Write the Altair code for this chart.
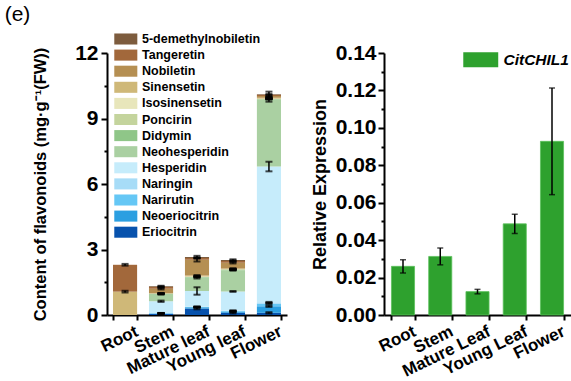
import altair as alt
import pandas as pd

FONT = "Liberation Sans"

# ---------------- data: flavonoid content (mg/g FW) ----------------
tissues = ["Root", "Stem", "Mature leaf", "Young leaf", "Flower"]
# legend order (top of stack first)
compounds = ["5-demethylnobiletin", "Tangeretin", "Nobiletin", "Sinensetin",
             "Isosinensetin", "Poncirin", "Didymin", "Neohesperidin",
             "Hesperidin", "Naringin", "Narirutin", "Neoeriocitrin", "Eriocitrin"]
colors = ["#7d5c3e", "#a2683b", "#b58f52", "#cfb878", "#e8e6bb", "#c4d49d",
          "#8fc688", "#aad0a2", "#c6ecfb", "#a7dcf7", "#65c7f5", "#2b9fe1", "#0752ad"]

eriocitrin = [0.00, 0.05, 0.30, 0.10, 0.10]
neoeriocitrin = [0.00, 0.02, 0.05, 0.05, 0.30]
narirutin = [0.00, 0.01, 0.02, 0.03, 0.12]
naringin = [0.00, 0.01, 0.01, 0.02, 0.06]
hesperidin = [0.00, 0.54, 0.72, 0.88, 6.22]
neohesperidin = [0.00, 0.33, 0.62, 0.97, 3.05]
didymin = [0.00, 0.01, 0.02, 0.02, 0.03]
poncirin = [0.00, 0.01, 0.00, 0.02, 0.02]
isosinensetin = [0.00, 0.00, 0.02, 0.01, 0.01]
sinensetin = [1.07, 0.02, 0.05, 0.03, 0.04]
nobiletin = [0.00, 0.20, 0.72, 0.26, 0.08]
tangeretin = [1.23, 0.08, 0.08, 0.08, 0.05]
demethylnobiletin = [0.00, 0.04, 0.05, 0.05, 0.03]

eriocitrin_err = [0.00, 0.02, 0.04, 0.03, 0.03]
neoeriocitrin_err = [0.00, 0.01, 0.01, 0.01, 0.03]
narirutin_err = [0.00, 0.005, 0.01, 0.01, 0.03]
naringin_err = [0.00, 0.005, 0.005, 0.005, 0.02]
hesperidin_err = [0.00, 0.03, 0.17, 0.02, 0.22]
neohesperidin_err = [0.00, 0.03, 0.05, 0.02, 0.08]
didymin_err = [0.00, 0.005, 0.01, 0.01, 0.01]
poncirin_err = [0.00, 0.005, 0.00, 0.01, 0.01]
isosinensetin_err = [0.00, 0.00, 0.01, 0.005, 0.005]
sinensetin_err = [0.04, 0.01, 0.02, 0.01, 0.02]
nobiletin_err = [0.00, 0.03, 0.08, 0.03, 0.05]
tangeretin_err = [0.04, 0.02, 0.03, 0.02, 0.04]
demethylnobiletin_err = [0.00, 0.02, 0.05, 0.03, 0.12]

# ---------------- data: relative expression ----------------
tissues2 = ["Root", "Stem", "Mature Leaf", "Young Leaf", "Flower"]
expression = [0.0260, 0.0313, 0.0125, 0.0487, 0.0928]
expression_err = [0.0035, 0.0045, 0.0012, 0.0052, 0.0285]

# axis tick values (major + minor)
left_ticks = [0, 1.5, 3, 4.5, 6, 7.5, 9, 10.5, 12]
right_ticks = [0.00, 0.01, 0.02, 0.03, 0.04, 0.05, 0.06, 0.07,
               0.08, 0.09, 0.10, 0.11, 0.12, 0.13, 0.14]

# ---------------- build tables ----------------
stack_series = [  # bottom -> top
    ("Eriocitrin", eriocitrin, eriocitrin_err),
    ("Neoeriocitrin", neoeriocitrin, neoeriocitrin_err),
    ("Narirutin", narirutin, narirutin_err),
    ("Naringin", naringin, naringin_err),
    ("Hesperidin", hesperidin, hesperidin_err),
    ("Neohesperidin", neohesperidin, neohesperidin_err),
    ("Didymin", didymin, didymin_err),
    ("Poncirin", poncirin, poncirin_err),
    ("Isosinensetin", isosinensetin, isosinensetin_err),
    ("Sinensetin", sinensetin, sinensetin_err),
    ("Nobiletin", nobiletin, nobiletin_err),
    ("Tangeretin", tangeretin, tangeretin_err),
    ("5-demethylnobiletin", demethylnobiletin, demethylnobiletin_err),
]
rows = []
for ti, t in enumerate(tissues):
    cum = 0.0
    for si, (name, vals, errs) in enumerate(stack_series):
        v = vals[ti]
        cum += v
        rows.append({"tissue": t, "compound": name, "value": v, "order": si,
                     "top": cum, "lo": cum - errs[ti], "hi": cum + errs[ti],
                     "has_err": v > 0})
df = pd.DataFrame(rows)
df_err = df[df["has_err"]]

df2 = pd.DataFrame({"tissue": tissues2, "value": expression,
                    "lo": [v - e for v, e in zip(expression, expression_err)],
                    "hi": [v + e for v, e in zip(expression, expression_err)],
                    "gene": ["CitCHIL1"] * 5})

# ---------------- shared axis styles ----------------
def x_axis():
    return alt.Axis(title=None, labelAngle=-26, labelAlign="right", labelBaseline="top",
                    labelFont=FONT, labelFontSize=17, labelFontWeight="bold", labelColor="black",
                    labelPadding=3, tickBand="extent", tickSize=5, tickWidth=2, tickColor="black",
                    domainColor="black", domainWidth=2, grid=False, labelOffset=8,
                    labelOverlap=False)

# ---------------- left chart ----------------
x_left = alt.X("tissue:N", sort=tissues,
               scale=alt.Scale(paddingInner=0.33, paddingOuter=0.167), axis=x_axis())
y_left_axis = alt.Axis(
    values=left_ticks, format="d", labelOverlap=False,
    labelExpr="datum.value % 3 === 0 ? datum.label : ''",
    tickSize={"condition": {"test": "datum.value % 3 === 0", "value": 6}, "value": 3},
    tickWidth=2, tickColor="black", domainColor="black", domainWidth=2, grid=False,
    labelFont=FONT, labelFontSize=21, labelFontWeight="bold", labelColor="black", labelPadding=3,
    title="Content of flavonoids (mg·g⁻¹(FW))", titleFont=FONT, titleFontSize=16.5,
    titleFontWeight="bold", titleColor="black", titlePadding=26)
y_left_scale = alt.Scale(domain=[0, 12], nice=False)

bars = alt.Chart(df).mark_bar().encode(
    x=x_left,
    y=alt.Y("value:Q", stack="zero", scale=y_left_scale, axis=y_left_axis),
    color=alt.Color("compound:N", scale=alt.Scale(domain=compounds, range=colors),
                    legend=alt.Legend(orient="none", legendX=10.8, legendY=-22, title=None,
                                      symbolType="M-1.44,-0.69H1.44V0.69H-1.44Z", symbolSize=256,
                                      symbolStrokeWidth=0, symbolOpacity=1, labelOffset=8.2,
                                      rowPadding=1.1, padding=0,
                                      labelFont=FONT, labelFontSize=12.5, labelFontWeight="bold",
                                      labelColor="black", labelLimit=300)),
    order=alt.Order("order:Q", sort="ascending"),
)
err_rule = alt.Chart(df_err).mark_rule(color="black", strokeWidth=1.5).encode(
    x=alt.X("tissue:N", sort=tissues),
    y=alt.Y("lo:Q", scale=y_left_scale, axis=y_left_axis), y2="hi:Q")
err_lo = alt.Chart(df_err).mark_tick(color="black", thickness=2, size=7).encode(
    x=alt.X("tissue:N", sort=tissues), y=alt.Y("lo:Q", scale=y_left_scale, axis=y_left_axis))
err_hi = alt.Chart(df_err).mark_tick(color="black", thickness=2, size=7).encode(
    x=alt.X("tissue:N", sort=tissues), y=alt.Y("hi:Q", scale=y_left_scale, axis=y_left_axis))

left = alt.layer(bars, err_rule, err_lo, err_hi).properties(
    width=180, height=262,
    title=alt.TitleParams("(e)", anchor="start", frame="bounds", dx=-28, offset=6,
                          font=FONT, fontSize=21, fontWeight="normal", color="black"))

# ---------------- right chart ----------------
x_right = alt.X("tissue:N", sort=tissues2,
                scale=alt.Scale(paddingInner=0.38, paddingOuter=0.2), axis=x_axis())
y_right_axis = alt.Axis(
    values=right_ticks, format=".2f", labelOverlap=False,
    labelExpr="round(datum.value * 100) % 2 === 0 ? datum.label : ''",
    tickSize={"condition": {"test": "round(datum.value * 100) % 2 === 0", "value": 6}, "value": 3},
    tickWidth=2, tickColor="black", domainColor="black", domainWidth=2, grid=False,
    labelFont=FONT, labelFontSize=21, labelFontWeight="bold", labelColor="black", labelPadding=2,
    title="Relative Expression", titleFont=FONT, titleFontSize=18,
    titleFontWeight="bold", titleColor="black", titlePadding=6)
y_right_scale = alt.Scale(domain=[0, 0.14], nice=False)

bars2 = alt.Chart(df2).mark_bar(stroke="#5cc05c", strokeWidth=0.8).encode(
    x=x_right,
    y=alt.Y("value:Q", scale=y_right_scale, axis=y_right_axis),
    color=alt.Color("gene:N", scale=alt.Scale(domain=["CitCHIL1"], range=["#2ea12e"]),
                    legend=alt.Legend(orient="none", legendX=89, legendY=-1, title=None,
                                      symbolType="M-2.33,-1H2.33V1H-2.33Z", symbolSize=225,
                                      symbolStrokeWidth=0, symbolOpacity=1, labelOffset=15,
                                      padding=0, labelFont=FONT, labelFontSize=15.5,
                                      labelFontWeight="bold", labelFontStyle="italic",
                                      labelColor="black")),
)
err2_rule = alt.Chart(df2).mark_rule(color="black", strokeWidth=1.5).encode(
    x=alt.X("tissue:N", sort=tissues2),
    y=alt.Y("lo:Q", scale=y_right_scale, axis=y_right_axis), y2="hi:Q")
err2_lo = alt.Chart(df2).mark_tick(color="black", thickness=1.5, size=6).encode(
    x=alt.X("tissue:N", sort=tissues2), y=alt.Y("lo:Q", scale=y_right_scale, axis=y_right_axis))
err2_hi = alt.Chart(df2).mark_tick(color="black", thickness=1.5, size=6).encode(
    x=alt.X("tissue:N", sort=tissues2), y=alt.Y("hi:Q", scale=y_right_scale, axis=y_right_axis))

right = alt.layer(bars2, err2_rule, err2_lo, err2_hi).properties(width=187, height=262)

chart = (alt.hconcat(left, right, spacing=24)
         .resolve_scale(color="independent")
         .resolve_legend(color="independent")
         .properties(padding={"left": 4, "top": 4, "right": 0, "bottom": 0})
         .configure(background="white")
         .configure_view(stroke=None)
         .configure_axis(labelOverlap=False))

chart.save("out.html", embed_options={"renderer": "svg", "actions": False})
